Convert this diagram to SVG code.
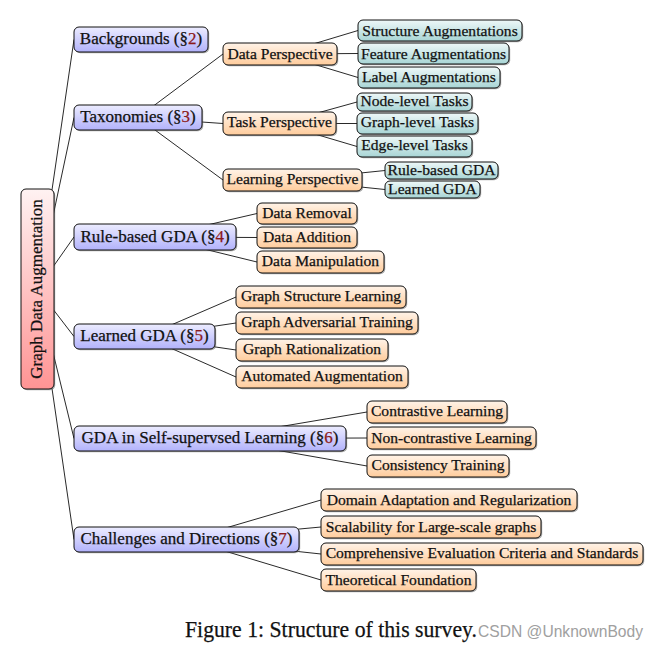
<svg xmlns="http://www.w3.org/2000/svg" width="659" height="647" viewBox="0 0 659 647">
<defs>
<linearGradient id="gRoot" x1="0" y1="0" x2="0" y2="1"><stop offset="0" stop-color="#fff2f2"/><stop offset="1" stop-color="#ff9494"/></linearGradient>
<linearGradient id="gBlue" x1="0" y1="0" x2="0" y2="1"><stop offset="0" stop-color="#ececff"/><stop offset="1" stop-color="#b2b2fb"/></linearGradient>
<linearGradient id="gOrange" x1="0" y1="0" x2="0" y2="1"><stop offset="0" stop-color="#fff3e8"/><stop offset="1" stop-color="#ffcc9c"/></linearGradient>
<linearGradient id="gTeal" x1="0" y1="0" x2="0" y2="1"><stop offset="0" stop-color="#eef8f8"/><stop offset="1" stop-color="#a8d5d5"/></linearGradient>
</defs>
<style>
.sh{fill:#666;opacity:.55}
.root{fill:url(#gRoot);stroke:#111;stroke-width:1}
.l1{fill:url(#gBlue);stroke:#111;stroke-width:1}
.or{fill:url(#gOrange);stroke:#111;stroke-width:1}
.te{fill:url(#gTeal);stroke:#111;stroke-width:1}
text{font-family:"Liberation Serif","Times New Roman",serif;fill:#111;stroke:#111;stroke-width:0.25;text-anchor:middle}
.t1{font-size:17px}
.t2{font-size:15.6px}
.num{fill:#8b1a1a;stroke:#8b1a1a}
#connectors line{stroke:#111;stroke-width:0.9}
</style>
<rect width="659" height="647" fill="#fff"/>
<g id="connectors">
<line x1="37.5" y1="289" x2="74" y2="39.5"/>
<line x1="37.5" y1="289" x2="74" y2="117.5"/>
<line x1="37.5" y1="289" x2="74" y2="237"/>
<line x1="37.5" y1="289" x2="74" y2="336.5"/>
<line x1="37.5" y1="289" x2="74" y2="438.5"/>
<line x1="37.5" y1="289" x2="74" y2="539.5"/>
<line x1="138" y1="117.5" x2="223" y2="54"/>
<line x1="138" y1="117.5" x2="223" y2="123.5"/>
<line x1="138" y1="117.5" x2="223" y2="180"/>
<line x1="280" y1="54" x2="358" y2="30.5"/>
<line x1="280" y1="54" x2="358" y2="53.5"/>
<line x1="280" y1="54" x2="358" y2="77.5"/>
<line x1="279.5" y1="123.5" x2="357" y2="102"/>
<line x1="279.5" y1="123.5" x2="357" y2="123.5"/>
<line x1="279.5" y1="123.5" x2="357" y2="146.5"/>
<line x1="292.5" y1="180" x2="385" y2="170.5"/>
<line x1="292.5" y1="180" x2="385" y2="189.5"/>
<line x1="155" y1="237" x2="257" y2="213.5"/>
<line x1="155" y1="237" x2="257" y2="237.5"/>
<line x1="155" y1="237" x2="257" y2="262"/>
<line x1="144.5" y1="336.5" x2="236" y2="297"/>
<line x1="144.5" y1="336.5" x2="236" y2="323"/>
<line x1="144.5" y1="336.5" x2="236" y2="350"/>
<line x1="144.5" y1="336.5" x2="236" y2="377"/>
<line x1="210" y1="438.5" x2="367" y2="412"/>
<line x1="210" y1="438.5" x2="367" y2="438"/>
<line x1="210" y1="438.5" x2="367" y2="466"/>
<line x1="186.5" y1="539.5" x2="321" y2="500"/>
<line x1="186.5" y1="539.5" x2="321" y2="527"/>
<line x1="186.5" y1="539.5" x2="321" y2="554"/>
<line x1="186.5" y1="539.5" x2="321" y2="580"/>
</g>

<g id="root"><rect class="sh" x="22.2" y="190.2" width="33" height="200" rx="5"/><rect class="root" x="21" y="189" width="33" height="200" rx="5"/><text class="t1" transform="translate(41.5,289) rotate(-90)">Graph Data Augmentation</text></g>

<g id="backgrounds"><rect class="sh" x="75.2" y="28.2" width="134" height="25" rx="5"/><rect class="l1" x="74" y="27" width="134" height="25" rx="5"/><text class="t1" x="141" y="44">Backgrounds (§<tspan class="num">2</tspan>)</text></g>
<g id="taxonomies"><rect class="sh" x="75.2" y="106.2" width="128" height="25" rx="5"/><rect class="l1" x="74" y="105" width="128" height="25" rx="5"/><text class="t1" x="138" y="122">Taxonomies (§<tspan class="num">3</tspan>)</text></g>
<g id="rule-based"><rect class="sh" x="75.2" y="225.2" width="162" height="26" rx="5"/><rect class="l1" x="74" y="224" width="162" height="26" rx="5"/><text class="t1" x="155" y="242">Rule-based GDA (§<tspan class="num">4</tspan>)</text></g>
<g id="learned"><rect class="sh" x="75.2" y="325.2" width="141" height="25" rx="5"/><rect class="l1" x="74" y="324" width="141" height="25" rx="5"/><text class="t1" x="144.5" y="341">Learned GDA (§<tspan class="num">5</tspan>)</text></g>
<g id="ssl"><rect class="sh" x="75.2" y="427.2" width="272" height="25" rx="5"/><rect class="l1" x="74" y="426" width="272" height="25" rx="5"/><text class="t1" x="210" y="443">GDA in Self-supervsed Learning (§<tspan class="num">6</tspan>)</text></g>
<g id="challenges"><rect class="sh" x="75.2" y="528.2" width="225" height="25" rx="5"/><rect class="l1" x="74" y="527" width="225" height="25" rx="5"/><text class="t1" x="186.5" y="544">Challenges and Directions (§<tspan class="num">7</tspan>)</text></g>

<g id="data-perspective"><rect class="sh" x="224.2" y="44.2" width="114" height="22" rx="5"/><rect class="or" x="223" y="43" width="114" height="22" rx="5"/><text class="t2" x="280" y="58.5">Data Perspective</text></g>
<g id="task-perspective"><rect class="sh" x="224.2" y="113.2" width="113" height="23" rx="5"/><rect class="or" x="223" y="112" width="113" height="23" rx="5"/><text class="t2" x="279.5" y="127">Task Perspective</text></g>
<g id="learning-perspective"><rect class="sh" x="224.2" y="170.2" width="139" height="22" rx="5"/><rect class="or" x="223" y="169" width="139" height="22" rx="5"/><text class="t2" x="292.5" y="184">Learning Perspective</text></g>

<g id="structure-aug"><rect class="sh" x="359.2" y="21.2" width="164" height="21" rx="5"/><rect class="te" x="358" y="20" width="164" height="21" rx="5"/><text class="t2" x="440" y="35.5">Structure Augmentations</text></g>
<g id="feature-aug"><rect class="sh" x="359.2" y="44.2" width="151" height="21" rx="5"/><rect class="te" x="358" y="43" width="151" height="21" rx="5"/><text class="t2" x="433.5" y="58.5">Feature Augmentations</text></g>
<g id="label-aug"><rect class="sh" x="359.2" y="68.2" width="142" height="21" rx="5"/><rect class="te" x="358" y="67" width="142" height="21" rx="5"/><text class="t2" x="429" y="82">Label Augmentations</text></g>
<g id="node-level"><rect class="sh" x="358.2" y="94.2" width="115" height="18" rx="5"/><rect class="te" x="357" y="93" width="115" height="18" rx="5"/><text class="t2" x="414.5" y="106">Node-level Tasks</text></g>
<g id="graph-level"><rect class="sh" x="358.2" y="114.2" width="121" height="21" rx="5"/><rect class="te" x="357" y="113" width="121" height="21" rx="5"/><text class="t2" x="417.5" y="127">Graph-level Tasks</text></g>
<g id="edge-level"><rect class="sh" x="358.2" y="137.2" width="115" height="21" rx="5"/><rect class="te" x="357" y="136" width="115" height="21" rx="5"/><text class="t2" x="414.5" y="149.5">Edge-level Tasks</text></g>
<g id="rule-based-gda"><rect class="sh" x="386.2" y="163.2" width="113" height="17" rx="5"/><rect class="te" x="385" y="162" width="113" height="17" rx="5"/><text class="t2" x="441.5" y="175">Rule-based GDA</text></g>
<g id="learned-gda"><rect class="sh" x="386.2" y="182.2" width="95" height="17" rx="5"/><rect class="te" x="385" y="181" width="95" height="17" rx="5"/><text class="t2" x="432.5" y="194.3">Learned GDA</text></g>

<g id="data-removal"><rect class="sh" x="258.2" y="204.2" width="100" height="21" rx="5"/><rect class="or" x="257" y="203" width="100" height="21" rx="5"/><text class="t2" x="307" y="218.3">Data Removal</text></g>
<g id="data-addition"><rect class="sh" x="258.2" y="228.2" width="100" height="21" rx="5"/><rect class="or" x="257" y="227" width="100" height="21" rx="5"/><text class="t2" x="307" y="241.7">Data Addition</text></g>
<g id="data-manipulation"><rect class="sh" x="258.2" y="252.2" width="127" height="22" rx="5"/><rect class="or" x="257" y="251" width="127" height="22" rx="5"/><text class="t2" x="320.5" y="265.7">Data Manipulation</text></g>

<g id="gsl"><rect class="sh" x="237.2" y="287.2" width="170" height="22" rx="5"/><rect class="or" x="236" y="286" width="170" height="22" rx="5"/><text class="t2" x="321" y="300.7">Graph Structure Learning</text></g>
<g id="gat"><rect class="sh" x="237.2" y="313.2" width="182" height="22" rx="5"/><rect class="or" x="236" y="312" width="182" height="22" rx="5"/><text class="t2" x="327" y="327.3">Graph Adversarial Training</text></g>
<g id="gr"><rect class="sh" x="237.2" y="340.2" width="152" height="22" rx="5"/><rect class="or" x="236" y="339" width="152" height="22" rx="5"/><text class="t2" x="312" y="354">Graph Rationalization</text></g>
<g id="aa"><rect class="sh" x="237.2" y="367.2" width="172" height="22" rx="5"/><rect class="or" x="236" y="366" width="172" height="22" rx="5"/><text class="t2" x="322" y="380.7">Automated Augmentation</text></g>

<g id="contrastive"><rect class="sh" x="368.2" y="402.2" width="140" height="22" rx="5"/><rect class="or" x="367" y="401" width="140" height="22" rx="5"/><text class="t2" x="437" y="416">Contrastive Learning</text></g>
<g id="non-contrastive"><rect class="sh" x="368.2" y="428.2" width="169" height="22" rx="5"/><rect class="or" x="367" y="427" width="169" height="22" rx="5"/><text class="t2" x="451.5" y="442.7">Non-contrastive Learning</text></g>
<g id="consistency"><rect class="sh" x="368.2" y="456.2" width="142" height="22" rx="5"/><rect class="or" x="367" y="455" width="142" height="22" rx="5"/><text class="t2" x="438" y="470">Consistency Training</text></g>

<g id="domain"><rect class="sh" x="322.2" y="490.2" width="256" height="22" rx="5"/><rect class="or" x="321" y="489" width="256" height="22" rx="5"/><text class="t2" x="449" y="505">Domain Adaptation and Regularization</text></g>
<g id="scalability"><rect class="sh" x="322.2" y="517.2" width="220" height="22" rx="5"/><rect class="or" x="321" y="516" width="220" height="22" rx="5"/><text class="t2" x="431" y="531.7">Scalability for Large-scale graphs</text></g>
<g id="comprehensive"><rect class="sh" x="322.2" y="544.2" width="322" height="22" rx="5"/><rect class="or" x="321" y="543" width="322" height="22" rx="5"/><text class="t2" x="482" y="558.3">Comprehensive Evaluation Criteria and Standards</text></g>
<g id="theoretical"><rect class="sh" x="322.2" y="570.2" width="155" height="22" rx="5"/><rect class="or" x="321" y="569" width="155" height="22" rx="5"/><text class="t2" x="398.5" y="585">Theoretical Foundation</text></g>

<text x="185" y="636.7" style="font-size:22.5px;text-anchor:start" textLength="292" lengthAdjust="spacingAndGlyphs">Figure 1: Structure of this survey.</text>
<text x="478" y="636.7" style="font-family:'Liberation Sans',Arial,sans-serif;font-size:17px;fill:#a0a0a0;stroke:none;text-anchor:start" textLength="165" lengthAdjust="spacingAndGlyphs">CSDN @UnknownBody</text>
</svg>
